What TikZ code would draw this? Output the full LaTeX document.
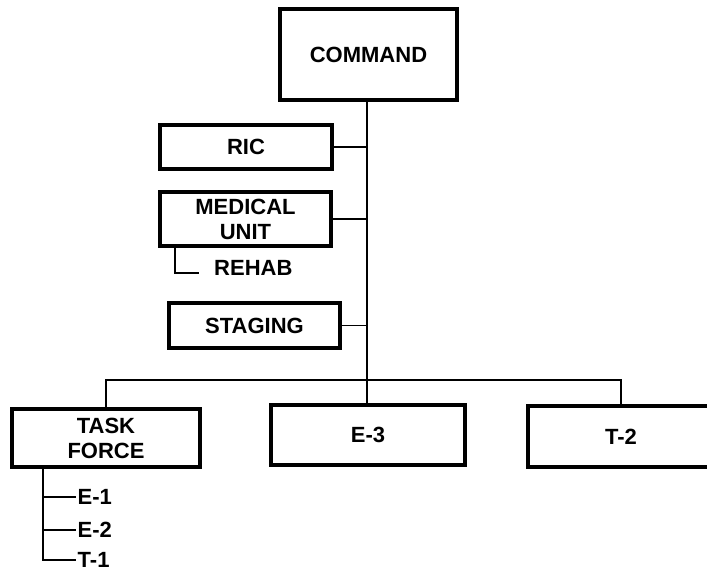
\documentclass[tikz,border=0pt]{standalone}
\usepackage{fontspec}
\setmainfont{Liberation Sans}
\begin{document}
\begin{tikzpicture}[x=1pt,y=-1pt,
  unitbox/.style={draw=black,line width=4pt,align=center,inner sep=0pt,
    font=\fontsize{22}{25}\selectfont\bfseries},
  sublabel/.style={anchor=west,inner xsep=1.5pt,inner ysep=1pt,
    font=\fontsize{22}{25}\selectfont\bfseries},
  link/.style={draw=black,line width=1.1pt}]
\useasboundingbox (0,0) rectangle (707,572);

% command staff and boxes
\node[unitbox,minimum width=177pt,minimum height=91pt] (command) at (368.5,54.5) {COMMAND};
\node[unitbox,minimum width=172pt,minimum height=44pt] (ric) at (246,147) {RIC};
\node[unitbox,minimum width=171pt,minimum height=54pt] (med) at (245.5,219) {MEDICAL\\UNIT};
\node[sublabel,inner xsep=15pt] (rehab) at (199,268) {REHAB};
\node[unitbox,minimum width=171pt,minimum height=45pt] (staging) at (254.5,325.5) {STAGING};

% operational units
\node[unitbox,minimum width=188pt,minimum height=58pt] (tf) at (106,438) {TASK\\FORCE};
\node[unitbox,minimum width=194pt,minimum height=60pt] (e3) at (368,435) {E-3};
\node[unitbox,minimum width=186pt,minimum height=61pt] (t2) at (621,436.5) {T-2};

% task force members
\node[sublabel] (e1) at (76,497) {E-1};
\node[sublabel] (e2) at (76,530) {E-2};
\node[sublabel] (t1) at (76,560) {T-1};

% trunk and branch bus
\coordinate (bus) at (367,380);
\coordinate (trunktop) at (command.south -| bus);
\draw[link] (trunktop) -- (trunktop |- e3.north);
\draw[link] (ric.east) -- (ric.east -| bus);
\draw[link] (med.east) -- (med.east -| bus);
\draw[link] (staging.east) -- (staging.east -| bus);
\draw[link] (tf.north) |- (bus) -| (t2.north);

% rehab under medical unit
\coordinate (medleg) at ([xshift=17pt]med.south west);
\draw[link] (medleg) |- ([yshift=-5pt]rehab.west);

% task force member list
\coordinate (tfleg) at ([xshift=33pt]tf.south west);
\draw[link] (tfleg) |- (t1.west);
\draw[link] (tfleg |- e1.west) -- (e1.west);
\draw[link] (tfleg |- e2.west) -- (e2.west);
\end{tikzpicture}
\end{document}
